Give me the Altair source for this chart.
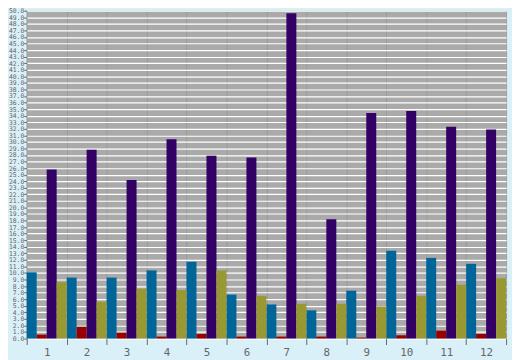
import altair as alt
import pandas as pd

groups = [str(i) for i in range(1, 13)]
series = ["A", "B", "C", "D"]
colors = ["#006699", "#990000", "#330066", "#999933"]

blue = [10.1, 9.3, 9.3, 10.4, 11.7, 6.7, 5.2, 4.3, 7.3, 13.4, 12.3, 11.4]
red = [0.6, 1.8, 0.9, 0.3, 0.7, 0.3, 0.3, 0.3, 0.15, 0.5, 1.2, 0.7]
purple = [25.8, 28.8, 24.2, 30.4, 27.9, 27.6, 49.6, 18.2, 34.4, 34.7, 32.3, 31.9]
olive = [8.6, 5.6, 7.6, 7.4, 10.4, 6.5, 5.3, 5.3, 4.9, 6.5, 8.2, 9.2]

rows = []
for s, vals in zip(series, [blue, red, purple, olive]):
    for g, v in zip(groups, vals):
        rows.append({"group": g, "series": s, "value": v})
df = pd.DataFrame(rows)

chart = alt.Chart(df).mark_bar().encode(
    x=alt.X("group:N", sort=groups, title=None,
            scale=alt.Scale(paddingInner=0, paddingOuter=0),
            axis=alt.Axis(labelAngle=0, tickBand="extent", grid=True,
                          gridColor="#999999", domain=False, tickColor="#666666",
                          tickSize=6, labelColor="#666666", labelFont="DejaVu Sans Mono",
                          labelFontSize=11, labelPadding=2)),
    xOffset=alt.XOffset("series:N", sort=series, scale=alt.Scale(paddingInner=0, paddingOuter=0)),
    y=alt.Y("value:Q", title=None,
            scale=alt.Scale(domain=[0, 50], nice=False, zero=True),
            axis=alt.Axis(values=list(range(0, 51)), format=".1f", labelOverlap=False,
                          grid=True, gridColor="#ffffff", gridWidth=1.2, gridOpacity=1,
                          domain=False, tickColor="#666666", tickSize=3,
                          labelColor="#666666", labelFont="DejaVu Sans Mono",
                          labelFontSize=6.5, labelPadding=0)),
    color=alt.Color("series:N", sort=series,
                    scale=alt.Scale(domain=series, range=colors), legend=None),
).properties(
    width=487, height=333, background="#daf0f8",
    autosize=alt.AutoSizeParams(type="none"),
    padding={"left": 19, "top": 0, "right": 6, "bottom": 19},
).configure_view(fill="#aaaaaa", stroke=None)

chart.save("out.html", embed_options={"renderer": "svg", "actions": False})
